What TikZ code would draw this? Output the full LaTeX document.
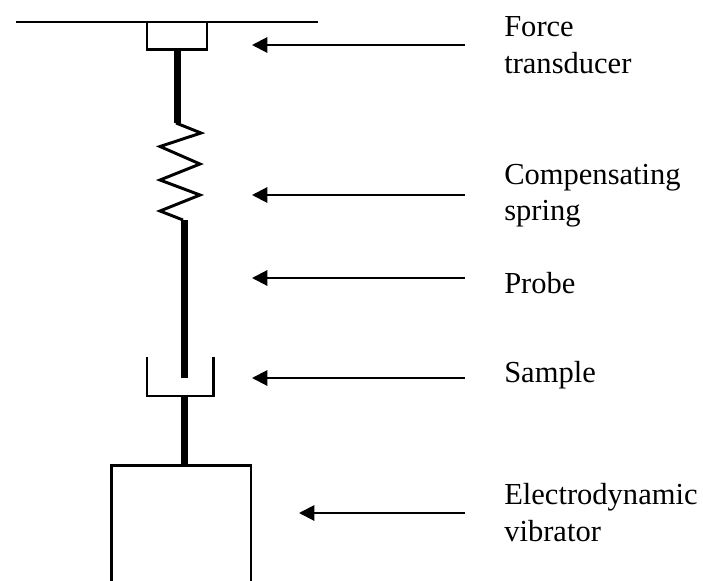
\documentclass[tikz,border=0pt]{standalone}
\usepackage{fontspec}
\setmainfont{Liberation Serif}
\usetikzlibrary{arrows.meta}

\tikzset{
  label text/.style={anchor=base west,inner sep=0,font=\fontsize{22.9}{22.9}\selectfont},
  pointer/.style={<-,line width=1.5pt},
  rod/.style={line width=5.25pt},
  outline/.style={line width=2.2pt},
}

\begin{document}
\begin{tikzpicture}[>={Triangle[length=11.5pt,width=11.5pt]}, x=0.75pt, y=-0.75pt]
\useasboundingbox (0,0) rectangle (703,581);

\draw[line width=1.5pt] (16,22)--(318,22);
\draw[outline,fill=white] (147,22)--(207,22)--(207,49.5)--(147,49.5)--cycle;
\draw[rod] (177.5,50)--(177.5,123);

\draw[outline] (176,123)--(201,133)--(160,146.5)--(200,164)--(160,180)--(200,195)--(160,211)--(183,220);
\draw[rod] (184,220)--(184,378);

\draw[outline] (147,357)--(147,396)--(213.5,396)--(213.5,357);
\draw[rod] (184,397)--(184,465);

\draw[outline] (111.5,581)--(111.5,465.5)--(251,465.5)--(251,581);

\coordinate (forcetip) at (252,45);
\coordinate (forcetail) at (465,45);
\coordinate (springtip) at (252,195);
\coordinate (springtail) at (465,195);
\coordinate (probetip) at (252,278);
\coordinate (probetail) at (465,278);
\coordinate (sampletip) at (252,378);
\coordinate (sampletail) at (465,378);
\coordinate (vibratortip) at (299,513);
\coordinate (vibratortail) at (465,513);

\draw[pointer] (forcetip)--(forcetail);
\draw[pointer] (springtip)--(springtail);
\draw[pointer] (probetip)--(probetail);
\draw[pointer] (sampletip)--(sampletail);
\draw[pointer] (vibratortip)--(vibratortail);

\node[label text] (force) at (504,37) {Force};
\node[label text] (transducer) at (504,74) {transducer};
\node[label text] (compensating) at (504,185) {Compensating};
\node[label text] (spring) at (504,220) {spring};
\node[label text] (probe) at (504,293) {Probe};
\node[label text] (sample) at (504,382) {Sample};
\node[label text] (electro) at (504,504) {Electrodynamic};
\node[label text] (vibrator) at (504,541) {vibrator};

\end{tikzpicture}
\end{document}
